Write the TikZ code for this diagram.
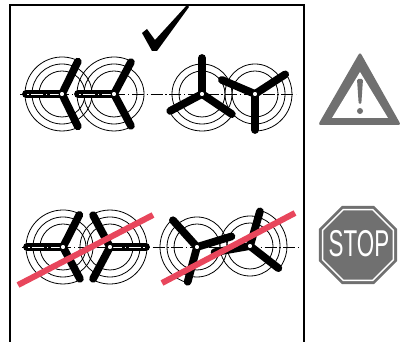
\documentclass[tikz,border=0pt]{standalone}
\usepackage{fontspec}
\usetikzlibrary{shapes.geometric}
\newfontfamily\signfont{Liberation Sans}
\definecolor{strike}{RGB}{232,70,92}
\definecolor{signgray}{RGB}{112,112,112}
% #1 name, #2 hub, #3 blade angles, #4/#5 tip arc from/to
\newcommand{\propeller}[5]{%
  \coordinate (#1) at (#2);
  \draw[ring] (#1) circle[radius=30] (#1) circle[radius=23];
  \draw[ring] (#1) ++(#4:37) arc[start angle=#4,end angle=#5,radius=37];
  \foreach \a in {#3} \draw[blade] (#1) -- ++(\a:36);
}
\begin{document}
\begin{tikzpicture}[x=0.75pt,y=0.75pt,
  ring/.style={line width=0.6pt},
  blade/.style={line width=5.8pt,line cap=round},
  hub/.style={draw,fill=white,line width=0.8pt},
  centre/.style={line width=0.7pt,dash pattern=on 9pt off 2pt on 1pt off 2pt},
  cross/.style={strike,line width=4.5pt}]
  \useasboundingbox (0,0) rectangle (403,342);
  \draw[line width=1.9pt] (10,0) -- (10,337) -- (304,337) -- (304,0);
  \fill (142,309) -- (147,313) -- (155,302) -- (187,337) -- (189,335) -- (157,291) -- (152,291) -- cycle;

  \coordinate (ta) at (20,248);
  \coordinate (tb) at (296,248);
  \coordinate (ba) at (22,95);
  \coordinate (bb) at (300,95);
  \draw[centre] (ta) -- (tb);
  \draw[centre] (ba) -- (bb);

  \propeller{p1}{62,248}{180,64,-64}{64}{296}
  \propeller{p2}{114,248}{180,62,-62}{62}{298}
  \propeller{p3}{202,248}{90,208,326}{208}{326}
  \propeller{p4}{255,248}{157,33,270}{-90}{33}
  \propeller{p5}{63,95}{180,63,-62}{63}{298}
  \propeller{p6}{110,95}{0,118,242}{-118}{118}
  \propeller{p7}{197,95}{132,255,17}{132}{255}
  \propeller{p8}{250,96}{74,-38,190}{-38}{74}

  \draw[centre,white] (p1) -- ++(180:35);
  \draw[centre,white] (p2) -- ++(180:35);
  \draw[centre,white] (p5) -- ++(180:35);
  \draw[centre,white] (p6) -- ++(0:35);
  \foreach \p in {p1,p2,p3,p4,p5,p6,p7,p8}
    \draw[hub] (\p) circle[radius=2.8];

  \coordinate (xa) at (18,57);
  \coordinate (xb) at (153,127);
  \coordinate (xc) at (162,59);
  \coordinate (xd) at (295,129);
  \draw[cross] (xa) -- (xb);
  \draw[cross] (xc) -- (xd);

  \fill[signgray,rounded corners=2pt] (318,217) -- (360,290) -- (401,217) -- cycle;
  \fill[white] (332,224) -- (360,270) -- (388,224) -- cycle;
  \fill[signgray,rounded corners=1pt] (357,263) -- (363,263) -- (361.3,238) -- (358.7,238) -- cycle;
  \fill[signgray] (360,231) circle[radius=3];

  \node[regular polygon,regular polygon sides=8,fill=signgray,minimum size=63.4pt,inner sep=0pt] (stop) at (358,97) {};
  \node[regular polygon,regular polygon sides=8,draw=white,line width=1.1pt,minimum size=57.5pt,inner sep=0pt] (rim) at (stop) {};
  \node[text=white,font=\signfont\fontsize{28}{28}\selectfont,xscale=0.6,inner sep=0pt] (word) at (359,98.5) {STOP};
\end{tikzpicture}
\end{document}
